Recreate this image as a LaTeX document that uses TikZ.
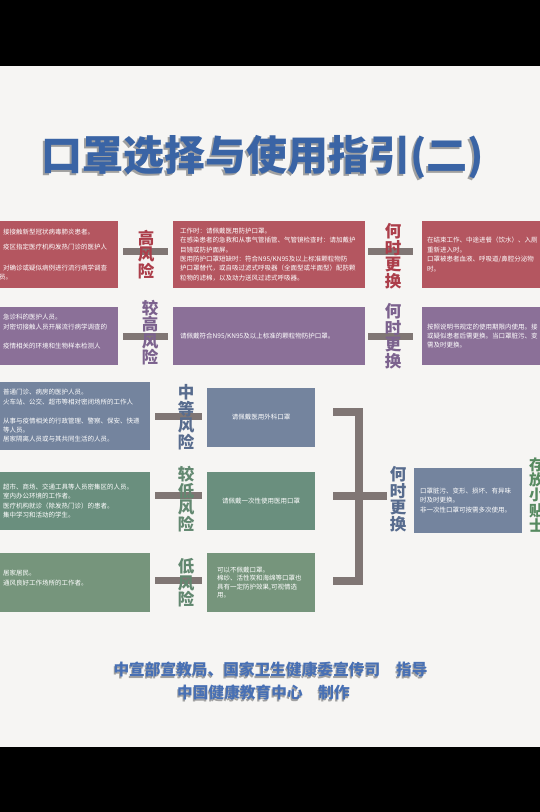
\documentclass[tikz,border=0pt]{standalone}
\usepackage{fontspec}
\setmainfont{Noto Sans CJK SC}
\usepackage{xcolor}
\usetikzlibrary{positioning}

\definecolor{hired}{RGB}{180,86,96}
\definecolor{hiredtxt}{RGB}{172,62,74}
\definecolor{midpurple}{RGB}{139,112,152}
\definecolor{midpurpletxt}{RGB}{124,98,142}
\definecolor{medblue}{RGB}{116,132,158}
\definecolor{medbluetxt}{RGB}{88,108,142}
\definecolor{logreen}{RGB}{106,143,126}
\definecolor{logreenb}{RGB}{118,149,124}
\definecolor{logreentxt}{RGB}{98,136,112}
\definecolor{barcol}{RGB}{128,118,116}
\definecolor{titleblue}{RGB}{58,100,165}
\definecolor{footblue}{RGB}{72,112,180}
\definecolor{shadowgray}{RGB}{160,160,160}
\definecolor{paper}{RGB}{246,245,243}
\definecolor{tipgreen}{RGB}{86,138,96}

\begin{document}
\begin{tikzpicture}[x=1pt, y=-1pt,
  box/.style={rectangle, anchor=west, inner xsep=4pt, inner ysep=0pt,
    align=left, text=white, font=\fontsize{6.5}{9.4}\selectfont},
  risk/.style={inner sep=0pt, align=center,
    font=\fontsize{16.5}{16.5}\selectfont\bfseries},
  bar/.style={draw=barcol, line width=7pt},
  head/.style={font=\fontsize{41}{41}\selectfont\bfseries},
  foot/.style={font=\fontsize{15.7}{15.7}\selectfont\bfseries}
  ]
  \clip (0,0) rectangle (540,812);
  \fill[black] (0,0) rectangle (540,812);
  \fill[paper] (0,66) rectangle (540,747);

  % title
  \node[head, text=shadowgray] (titleshadow) at (260.5,159.5) {口罩选择与使用指引(二)};
  \node[head, text=titleblue] (title) at (263,157) {口罩选择与使用指引(二)};

  % high risk
  \node[box, fill=hired, text width=111pt, minimum height=67pt] (h1l) at (-1,254.5)
  {接接触新型冠状病毒肺炎患者。\\[6pt]疫区指定医疗机构发热门诊的医护人\\\mbox{}\\[2pt]对确诊或疑似病例进行流行病学调查\\\hspace*{-4pt}员。};
  \node[box, fill=hired, inner xsep=7pt, text width=178pt, minimum height=67pt] (h1m) at (173,254.5)
  {工作时：请佩戴医用防护口罩。\\在感染患者的急救和从事气管插管、气管镜检查时：请加戴护\\目镜或防护面屏。\\医用防护口罩短缺时：符合N95/KN95及以上标准颗粒物防\\护口罩替代，或自吸过滤式呼吸器（全面型或半面型）配防颗\\粒物的滤棉，以及动力送风过滤式呼吸器。};
  \node[box, fill=hired, inner xsep=5pt, text width=117pt, minimum height=67pt] (h1r) at (422,254.5)
  {在结束工作、中途进餐（饮水）、入厕\\重新进入时。\\口罩被患者血液、呼吸道/鼻腔分泌物\\时。};

  % higher risk
  \node[box, fill=midpurple, text width=111pt, minimum height=58pt] (h2l) at (-1,336)
  {急诊科的医护人员。\\对密切接触人员开展流行病学调查的\\\mbox{}\\疫情相关的环境和生物样本检测人\\\mbox{}};
  \node[box, fill=midpurple, inner xsep=7pt, text width=178pt, minimum height=58pt] (h2m) at (173,336)
  {请佩戴符合N95/KN95及以上标准的颗粒物防护口罩。};
  \node[box, fill=midpurple, inner xsep=5pt, text width=117pt, minimum height=58pt] (h2r) at (422,336)
  {按照说明书规定的使用期限内使用。接\\或疑似患者后需更换。当口罩脏污、变\\需及时更换。};

  % medium risk
  \node[box, fill=medblue, text width=143pt, minimum height=68pt] (h3l) at (-1,416)
  {普通门诊、病房的医护人员。\\火车站、公交、超市等相对密闭场所的工作人\\\mbox{}\\从事与疫情相关的行政管理、警察、保安、快递\\等人员。\\居家隔离人员或与其共同生活的人员。};
  \node[box, fill=medblue, align=center, text width=100pt, minimum height=59pt] (m3) at (207,417.5)
  {请佩戴医用外科口罩};

  % lower risk
  \node[box, fill=logreen, text width=143pt, minimum height=58pt] (h4l) at (-1,501)
  {超市、商场、交通工具等人员密集区的人员。\\室内办公环境的工作者。\\医疗机构就诊（除发热门诊）的患者。\\集中学习和活动的学生。};
  \node[box, fill=logreen, align=center, text width=100pt, minimum height=58pt] (m4) at (207,501)
  {请佩戴一次性使用医用口罩};

  % low risk
  \node[box, fill=logreenb, text width=143pt, minimum height=59pt] (h5l) at (-1,582.5)
  {居家居民。\\通风良好工作场所的工作者。\\\mbox{}};
  \node[box, fill=logreenb, inner xsep=10pt, text width=88pt, minimum height=59pt,
    font=\fontsize{6.5}{8.5}\selectfont] (m5) at (207,582.5)
  {可以不佩戴口罩。\\棉纱、活性炭和海绵等口罩也\\具有一定防护效果,可视情选\\用。};

  % when to change, lower rows
  \node[box, fill=medblue, inner xsep=6pt, text width=96pt, minimum height=65pt] (q) at (414,500.5)
  {口罩脏污、变形、损坏、有异味\\时及时更换。\\非一次性口罩可按需多次使用。};

  % bars
  \draw[bar, shorten <=5pt, shorten >=5pt] ([yshift=3pt]h1l.east) -- ([yshift=3pt]h1m.west);
  \draw[bar, shorten <=3pt, shorten >=9pt] ([yshift=3pt]h1m.east) -- ([yshift=3pt]h1r.west);
  \draw[bar, shorten <=5pt, shorten >=5pt] (h2l.east) -- (h2m.west);
  \draw[bar, shorten <=3pt, shorten >=9pt] (h2m.east) -- (h2r.west);
  \draw[bar, shorten <=5pt, shorten >=5pt] (h3l.east) -- (m3.west |- h3l.east);
  \draw[bar, shorten <=5pt, shorten >=5pt] ([yshift=6pt]h4l.east) -- ([yshift=6pt]m4.west);
  \draw[bar, shorten <=5pt, shorten >=5pt] ([yshift=2pt]h5l.east) -- ([yshift=2pt]m5.west);

  % bracket
  \coordinate[right=18pt of m3.east] (b3);
  \coordinate[right=18pt of m4.east] (b4);
  \coordinate[right=18pt of m5.east] (b5);
  \coordinate (bm) at (387,496);
  \draw[bar, line width=8pt] ([yshift=6pt]b3) -- ++(26,0) |- ([yshift=1.5pt]b5);
  \draw[bar, line width=8pt] ([yshift=5pt]b4) -- (bm);

  % labels
  \node[risk, text=hiredtxt] (r1) at (146,254.5) {高\\风\\险};
  \node[risk, text=midpurpletxt] (r2) at (150,332.5) {较\\高\\风\\险};
  \node[risk, text=medbluetxt] (r3) at (186,417) {中\\等\\风\\险};
  \node[risk, text=logreentxt] (r4) at (186,499) {较\\低\\风\\险};
  \node[risk, text=logreentxt] (r5) at (186,583) {低\\风\\险};
  \node[risk, text=hiredtxt] (w1) at (393,256) {何\\时\\更\\换};
  \node[risk, text=midpurpletxt] (w2) at (393,336) {何\\时\\更\\换};
  \node[risk, text=medbluetxt] (w3) at (398,499) {何\\时\\更\\换};
  \node[risk, text=tipgreen, anchor=west, font=\fontsize{15}{13.5}\selectfont\bfseries] (tips) at (529,495)
  {存\\放\\小\\贴\\士};

  % credits
  \node[foot, text=shadowgray] (credit1s) at (269.5,671) {中宣部宣教局、国家卫生健康委宣传司\hspace{1em}指导};
  \node[foot, text=footblue] (credit1) at (270.5,669.5) {中宣部宣教局、国家卫生健康委宣传司\hspace{1em}指导};
  \node[foot, text=shadowgray] (credit2s) at (262.5,694) {中国健康教育中心\hspace{1em}制作};
  \node[foot, text=footblue] (credit2) at (263.5,692.5) {中国健康教育中心\hspace{1em}制作};
\end{tikzpicture}
\end{document}
